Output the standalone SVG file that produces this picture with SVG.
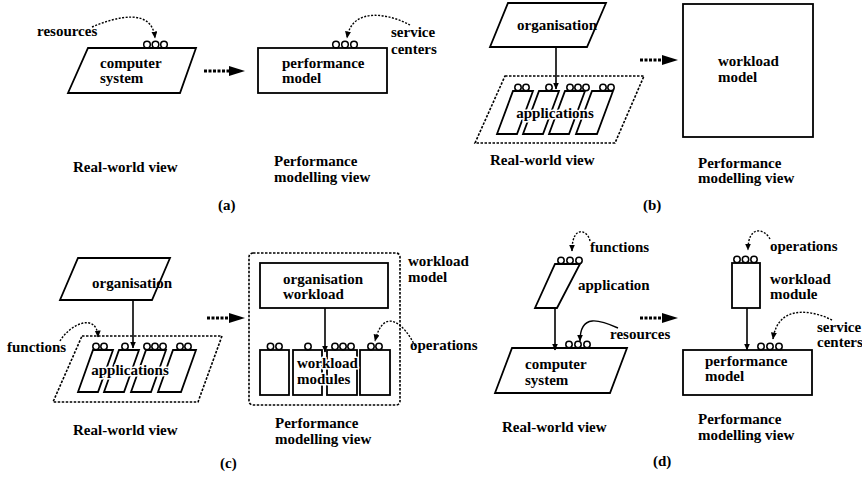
<svg xmlns="http://www.w3.org/2000/svg" width="862" height="477" viewBox="0 0 862 477">
<defs>
<style>
.t{font-family:"Liberation Serif","Times New Roman",serif;font-weight:bold;font-size:15px;fill:#000}
.h{stroke:#fff;stroke-width:3;paint-order:stroke;stroke-linejoin:round}
.m{text-anchor:middle}
.s{fill:#fff;stroke:#000;stroke-width:1.8;stroke-linejoin:miter}
.a{fill:none;stroke:#000;stroke-width:1.6}
.d{fill:none;stroke:#000;stroke-width:1.6;stroke-dasharray:2.5 1.5}
.c{fill:#fff;stroke:#000;stroke-width:1.5}
.cv{fill:none;stroke:#000;stroke-width:1.4;stroke-dasharray:2 1.5}
.sv{fill:none;stroke:#000;stroke-width:1.4}
.big{fill:none;stroke:#000;stroke-width:3;stroke-dasharray:3 1.5}
</style>
<marker id="ah" markerUnits="userSpaceOnUse" markerWidth="8" markerHeight="8" refX="6.5" refY="3" orient="auto"><path d="M0,0 L7,3 L0,6 z" fill="#000"/></marker>
<marker id="bh" markerUnits="userSpaceOnUse" markerWidth="17" markerHeight="10" refX="1" refY="5" orient="auto"><path d="M0,0 L16,5 L0,10 z" fill="#000"/></marker>
</defs>

<!-- Panel (a) -->
<g id="a-computer-system">
<polygon class="s" points="88,48 196,48 180,93 68,93"/>
<circle class="c" cx="147" cy="44.5" r="3.3"/><circle class="c" cx="155.5" cy="44.5" r="3.3"/><circle class="c" cx="164" cy="44.5" r="3.3"/>
<text class="t" x="100" y="68">computer</text>
<text class="t" x="100" y="83">system</text>
</g>
<g id="a-performance-model">
<rect class="s" x="258" y="48" width="129" height="45"/>
<circle class="c" cx="336" cy="44.5" r="3.3"/><circle class="c" cx="345" cy="44.5" r="3.3"/><circle class="c" cx="354" cy="44.5" r="3.3"/>
<text class="t" x="282" y="68">performance</text>
<text class="t" x="282" y="83">model</text>
</g>
<g id="a-labels">
<text class="t" x="37" y="36">resources</text>
<text class="t" x="391" y="37">service</text>
<text class="t" x="391" y="54">centers</text>
<text class="t" x="73" y="172">Real-world view</text>
<text class="t" x="274" y="166">Performance</text>
<text class="t" x="274" y="182">modelling view</text>
<text class="t" x="218" y="210">(a)</text>
</g>

<!-- Panel (b) -->
<g id="b-organisation">
<polygon class="s" points="508,3 606,3 587,47 490,47"/>
<text class="t" x="517" y="30">organisation</text>
</g>
<g id="b-applications">
<polygon class="d" points="505,76 644,76 615,143 475,143"/>
<polygon class="s" points="513,91 533,91 517,134 497,134"/>
<polygon class="s" points="539,91 559,91 543,134 523,134"/>
<polygon class="s" points="565,91 585,91 569,134 549,134"/>
<polygon class="s" points="592,91 613,91 597,134 576,134"/>
<circle class="c" cx="518" cy="87.5" r="3.2"/><circle class="c" cx="526" cy="87.5" r="3.2"/>
<circle class="c" cx="549" cy="87.5" r="3.2"/>
<circle class="c" cx="570" cy="87.5" r="3.2"/><circle class="c" cx="578" cy="87.5" r="3.2"/><circle class="c" cx="586" cy="87.5" r="3.2"/>
<circle class="c" cx="603" cy="87.5" r="3.2"/><circle class="c" cx="611" cy="87.5" r="3.2"/>
<text class="t h m" x="555" y="118">applications</text>
</g>
<g id="b-workload-model">
<rect class="s" x="683" y="4" width="130" height="133"/>
<text class="t" x="718" y="66">workload</text>
<text class="t" x="718" y="82">model</text>
</g>
<g id="b-labels">
<text class="t" x="490" y="165">Real-world view</text>
<text class="t" x="698" y="168">Performance</text>
<text class="t" x="698" y="183">modelling view</text>
<text class="t" x="643" y="210">(b)</text>
</g>

<!-- Panel (c) -->
<g id="c-organisation">
<polygon class="s" points="78,258 170,258 152,300 60,300"/>
<text class="t" x="92" y="288">organisation</text>
</g>
<g id="c-applications">
<polygon class="d" points="82,336 222,336 198,402 53,402"/>
<polygon class="s" points="93,350 113,350 98,392 78,392"/>
<polygon class="s" points="119,350 139,350 124,392 104,392"/>
<polygon class="s" points="146,350 166,350 151,392 131,392"/>
<polygon class="s" points="173,350 196,350 181,392 158,392"/>
<circle class="c" cx="96" cy="346.5" r="3.2"/><circle class="c" cx="104" cy="346.5" r="3.2"/>
<circle class="c" cx="125" cy="346.5" r="3.2"/>
<circle class="c" cx="147" cy="346.5" r="3.2"/><circle class="c" cx="155" cy="346.5" r="3.2"/><circle class="c" cx="163" cy="346.5" r="3.2"/>
<circle class="c" cx="180" cy="346.5" r="3.2"/><circle class="c" cx="188" cy="346.5" r="3.2"/>
<text class="t h m" x="130" y="375">applications</text>
</g>
<g id="c-workload-model">
<rect class="d" x="249" y="253" width="151" height="152" rx="4"/>
</g>
<g id="c-organisation-workload">
<rect class="s" x="260" y="263" width="128" height="45"/>
<text class="t" x="283" y="284">organisation</text>
<text class="t" x="283" y="299">workload</text>
</g>
<g id="c-workload-modules">
<rect class="s" x="260" y="350" width="29" height="45"/>
<rect class="s" x="293" y="350" width="29" height="45"/>
<rect class="s" x="327" y="350" width="30" height="45"/>
<rect class="s" x="360" y="350" width="30" height="45"/>
<circle class="c" cx="270.5" cy="346.5" r="3.2"/><circle class="c" cx="279" cy="346.5" r="3.2"/>
<circle class="c" cx="308" cy="346.5" r="3.2"/>
<circle class="c" cx="335" cy="346.5" r="3.2"/><circle class="c" cx="343" cy="346.5" r="3.2"/><circle class="c" cx="351" cy="346.5" r="3.2"/>
<circle class="c" cx="371" cy="346.5" r="3.2"/><circle class="c" cx="379" cy="346.5" r="3.2"/>
<text class="t h" x="297" y="368">workload</text>
<text class="t h" x="297" y="384">modules</text>
</g>
<g id="c-labels">
<text class="t" x="7" y="352">functions</text>
<text class="t" x="408" y="266">workload</text>
<text class="t" x="408" y="282">model</text>
<text class="t" x="410" y="350">operations</text>
<text class="t" x="73" y="435">Real-world view</text>
<text class="t" x="275" y="428">Performance</text>
<text class="t" x="275" y="444">modelling view</text>
<text class="t" x="220" y="468">(c)</text>
</g>

<!-- Panel (d) -->
<g id="d-application">
<polygon class="s" points="555,264 580,264 557,308 535,308"/>
<circle class="c" cx="561" cy="260.5" r="3.2"/><circle class="c" cx="570" cy="260.5" r="3.2"/><circle class="c" cx="579" cy="260.5" r="3.2"/>
<text class="t" x="578" y="290">application</text>
</g>
<g id="d-computer-system">
<polygon class="s" points="512,348 627,348 610,393 495,393"/>
<circle class="c" cx="569" cy="344.5" r="3.2"/><circle class="c" cx="578" cy="344.5" r="3.2"/><circle class="c" cx="587" cy="344.5" r="3.2"/>
<text class="t" x="525" y="369">computer</text>
<text class="t" x="525" y="385">system</text>
</g>
<g id="d-workload-module">
<rect class="s" x="732" y="263" width="28" height="45"/>
<circle class="c" cx="737" cy="259.5" r="3.2"/><circle class="c" cx="745.5" cy="259.5" r="3.2"/><circle class="c" cx="754" cy="259.5" r="3.2"/>
<text class="t" x="770" y="284">workload</text>
<text class="t" x="770" y="299">module</text>
</g>
<g id="d-performance-model">
<rect class="s" x="683" y="350" width="129" height="45"/>
<circle class="c" cx="761" cy="346.5" r="3.2"/><circle class="c" cx="770" cy="346.5" r="3.2"/><circle class="c" cx="779" cy="346.5" r="3.2"/>
<text class="t" x="705" y="366">performance</text>
<text class="t" x="705" y="381">model</text>
</g>
<g id="d-labels">
<text class="t" x="590" y="252">functions</text>
<text class="t" x="610" y="339">resources</text>
<text class="t" x="770" y="251">operations</text>
<text class="t" x="817" y="332">service</text>
<text class="t" x="817" y="347">centers</text>
<text class="t" x="502" y="432">Real-world view</text>
<text class="t" x="698" y="424">Performance</text>
<text class="t" x="698" y="440">modelling view</text>
<text class="t" x="653" y="466">(d)</text>
</g>

<!-- Connectors -->
<g id="connectors">
<path class="big" d="M204,71 H230" marker-end="url(#bh)"/>
<path class="big" d="M640,60 H663" marker-end="url(#bh)"/>
<path class="big" d="M207,318 H230" marker-end="url(#bh)"/>
<path class="big" d="M640,318 H663" marker-end="url(#bh)"/>
<path class="a" d="M556,47 V89" marker-end="url(#ah)"/>
<path class="a" d="M133,300 V348" marker-end="url(#ah)"/>
<path class="a" d="M325,308 V352" marker-end="url(#ah)"/>
<path class="a" d="M555,308 V350" marker-end="url(#ah)"/>
<path class="a" d="M747,308 V350" marker-end="url(#ah)"/>
<path class="cv" d="M92,27 C118,16 152,8 155,38" marker-end="url(#ah)"/>
<path class="cv" d="M410,25 C390,14 352,6 347,38" marker-end="url(#ah)"/>
<path class="cv" d="M60,341 C70,324 97,312 98,337" marker-end="url(#ah)"/>
<path class="cv" d="M415,346 C405,325 384,305 375,341" marker-end="url(#ah)"/>
<path class="cv" d="M590,241 C588,230 572,224 572,251" marker-end="url(#ah)"/>
<path class="sv" d="M618,328 C600,320 580,313 580,341" marker-end="url(#ah)"/>
<path class="cv" d="M770,239 C765,229 748,224 748,250" marker-end="url(#ah)"/>
<path class="cv" d="M832,320 C812,310 778,304 773,339" marker-end="url(#ah)"/>
</g>
</svg>
